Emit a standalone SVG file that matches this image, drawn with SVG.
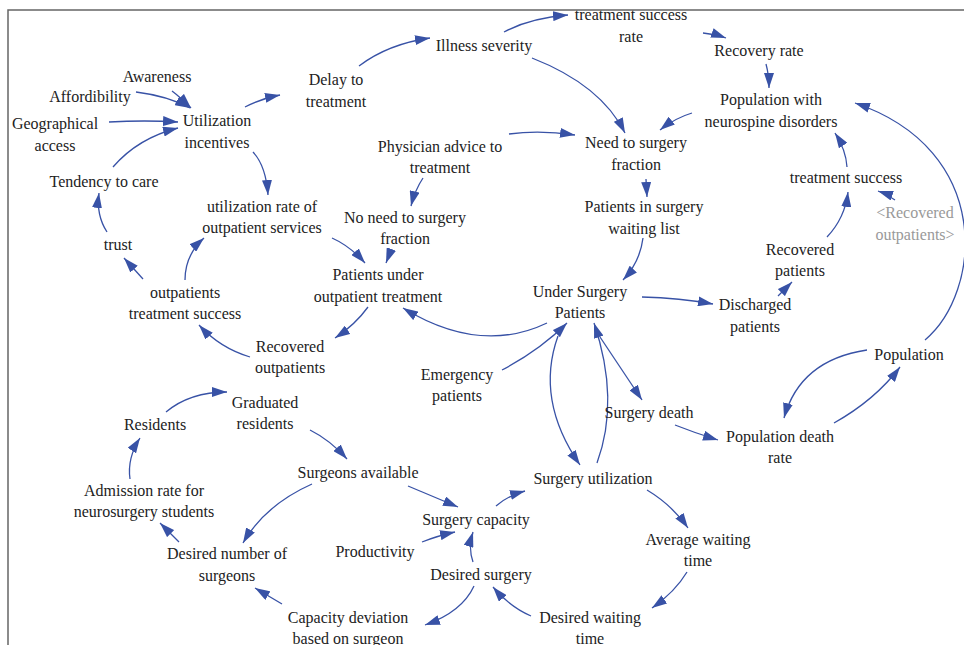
<svg xmlns="http://www.w3.org/2000/svg" width="964" height="645" viewBox="0 0 964 645">
<defs>
<marker id="ah" markerWidth="15" markerHeight="10" refX="15" refY="5" orient="auto" markerUnits="userSpaceOnUse"><path d="M0,0 L15,5 L0,10 z" fill="#3852a6"/></marker>
</defs>
<rect width="964" height="645" fill="#fff"/>
<path fill="none" stroke="#666" stroke-width="1.5" d="M8,645 L8,10 L964,10"/>
<g id="connectors" fill="none" stroke="#3852a6" stroke-width="1.3" marker-end="url(#ah)">
<path d="M172,91 Q180,97 191,108"/>
<path d="M136,92 Q168,96 190,108"/>
<path d="M109,122 Q145,120 178,122"/>
<path d="M113,167 Q138,138 178,128"/>
<path d="M245,107 Q260,99 280,95"/>
<path d="M253,152 Q266,166 268,195"/>
<path d="M359,66 Q388,44 430,38"/>
<path d="M504,32 Q530,18 568,15"/>
<path d="M532,58 Q601,85 625,133"/>
<path d="M509,134 Q540,130 575,135"/>
<path d="M423,178 Q415,190 411,206"/>
<path d="M703,33 Q715,34 726,38"/>
<path d="M766,64 Q769,75 769,88"/>
<path d="M692,113 Q675,118 660,130"/>
<path d="M925,340 C982,292 994,150 855,103"/>
<path d="M847,167 Q846,150 835,133"/>
<path d="M895,200 Q887,194 878,191"/>
<path d="M827,237 Q845,218 848,192"/>
<path d="M646,179 L647,197"/>
<path d="M643,238 Q640,262 623,280"/>
<path d="M642,297 Q680,298 713,304"/>
<path d="M778,296 L792,282"/>
<path d="M547,323 Q480,355 403,308"/>
<path d="M332,238 Q350,246 365,263"/>
<path d="M391,250 L386,263"/>
<path d="M368,307 Q355,325 335,338"/>
<path d="M250,357 Q220,348 199,325"/>
<path d="M143,279 L124,258"/>
<path d="M185,280 Q185,255 204,238"/>
<path d="M107,232 Q96,215 99,193"/>
<path d="M502,370 Q540,350 567,323"/>
<path d="M597,463 Q620,400 594,323"/>
<path d="M558,336 Q535,400 580,465"/>
<path d="M600,337 L642,400"/>
<path d="M675,425 Q695,433 718,440"/>
<path d="M867,350 Q800,360 784,418"/>
<path d="M834,423 Q875,400 900,367"/>
<path d="M647,490 Q672,505 688,528"/>
<path d="M687,572 Q675,592 652,608"/>
<path d="M531,616 Q510,607 493,587"/>
<path d="M473,562 Q468,548 473,532"/>
<path d="M474,586 Q462,612 425,625"/>
<path d="M282,604 L255,588"/>
<path d="M422,542 Q437,536 455,532"/>
<path d="M408,486 L458,507"/>
<path d="M496,506 Q507,496 525,491"/>
<path d="M312,484 Q265,505 243,543"/>
<path d="M310,430 Q330,440 347,459"/>
<path d="M166,412 Q190,392 227,392"/>
<path d="M130,479 Q127,458 140,438"/>
<path d="M179,542 L160,523"/>
</g>
<g id="awareness"><text font-family="Liberation Serif" font-size="16" fill="#222" text-anchor="middle" x="157" y="82">Awareness</text></g>
<g id="affordibility"><text font-family="Liberation Serif" font-size="16" fill="#222" text-anchor="middle" x="90" y="102">Affordibility</text></g>
<g id="geographical"><text font-family="Liberation Serif" font-size="16" fill="#222" text-anchor="middle" x="55" y="129">Geographical</text><text font-family="Liberation Serif" font-size="16" fill="#222" text-anchor="middle" x="55" y="151">access</text></g>
<g id="utilization-incentives"><text font-family="Liberation Serif" font-size="16" fill="#222" text-anchor="middle" x="217" y="126">Utilization</text><text font-family="Liberation Serif" font-size="16" fill="#222" text-anchor="middle" x="217" y="148">incentives</text></g>
<g id="delay"><text font-family="Liberation Serif" font-size="16" fill="#222" text-anchor="middle" x="336" y="85">Delay to</text><text font-family="Liberation Serif" font-size="16" fill="#222" text-anchor="middle" x="336" y="107">treatment</text></g>
<g id="illness"><text font-family="Liberation Serif" font-size="16" fill="#222" text-anchor="middle" x="484" y="51">Illness severity</text></g>
<g id="ts-rate"><text font-family="Liberation Serif" font-size="16" fill="#222" text-anchor="middle" x="631" y="20">treatment success</text><text font-family="Liberation Serif" font-size="16" fill="#222" text-anchor="middle" x="631" y="42">rate</text></g>
<g id="recovery-rate"><text font-family="Liberation Serif" font-size="16" fill="#222" text-anchor="middle" x="759" y="56">Recovery rate</text></g>
<g id="pop-neuro"><text font-family="Liberation Serif" font-size="16" fill="#222" text-anchor="middle" x="771" y="105">Population with</text><text font-family="Liberation Serif" font-size="16" fill="#222" text-anchor="middle" x="771" y="127">neurospine disorders</text></g>
<g id="need-surgery"><text font-family="Liberation Serif" font-size="16" fill="#222" text-anchor="middle" x="636" y="148">Need to surgery</text><text font-family="Liberation Serif" font-size="16" fill="#222" text-anchor="middle" x="636" y="170">fraction</text></g>
<g id="physician"><text font-family="Liberation Serif" font-size="16" fill="#222" text-anchor="middle" x="440" y="152">Physician advice to</text><text font-family="Liberation Serif" font-size="16" fill="#222" text-anchor="middle" x="440" y="173">treatment</text></g>
<g id="tendency"><text font-family="Liberation Serif" font-size="16" fill="#222" text-anchor="middle" x="104" y="187">Tendency to care</text></g>
<g id="util-rate"><text font-family="Liberation Serif" font-size="16" fill="#222" text-anchor="middle" x="262" y="212">utilization rate of</text><text font-family="Liberation Serif" font-size="16" fill="#222" text-anchor="middle" x="262" y="233">outpatient services</text></g>
<g id="no-need"><text font-family="Liberation Serif" font-size="16" fill="#222" text-anchor="middle" x="405" y="223">No need to surgery</text><text font-family="Liberation Serif" font-size="16" fill="#222" text-anchor="middle" x="405" y="244">fraction</text></g>
<g id="waiting-list"><text font-family="Liberation Serif" font-size="16" fill="#222" text-anchor="middle" x="644" y="212">Patients in surgery</text><text font-family="Liberation Serif" font-size="16" fill="#222" text-anchor="middle" x="644" y="234">waiting list</text></g>
<g id="treatment-success"><text font-family="Liberation Serif" font-size="16" fill="#222" text-anchor="middle" x="846" y="183">treatment success</text></g>
<g id="recovered-ghost"><text font-family="Liberation Serif" font-size="16" fill="#999" text-anchor="middle" x="915" y="218">&lt;Recovered</text><text font-family="Liberation Serif" font-size="16" fill="#999" text-anchor="middle" x="915" y="240">outpatients&gt;</text></g>
<g id="trust"><text font-family="Liberation Serif" font-size="16" fill="#222" text-anchor="middle" x="118" y="250">trust</text></g>
<g id="recovered-patients"><text font-family="Liberation Serif" font-size="16" fill="#222" text-anchor="middle" x="800" y="255">Recovered</text><text font-family="Liberation Serif" font-size="16" fill="#222" text-anchor="middle" x="800" y="276">patients</text></g>
<g id="outpatient-treatment"><text font-family="Liberation Serif" font-size="16" fill="#222" text-anchor="middle" x="378" y="280">Patients under</text><text font-family="Liberation Serif" font-size="16" fill="#222" text-anchor="middle" x="378" y="302">outpatient treatment</text></g>
<g id="under-surgery"><text font-family="Liberation Serif" font-size="16" fill="#222" text-anchor="middle" x="580" y="297">Under Surgery</text><text font-family="Liberation Serif" font-size="16" fill="#222" text-anchor="middle" x="580" y="318">Patients</text></g>
<g id="discharged"><text font-family="Liberation Serif" font-size="16" fill="#222" text-anchor="middle" x="755" y="310">Discharged</text><text font-family="Liberation Serif" font-size="16" fill="#222" text-anchor="middle" x="755" y="332">patients</text></g>
<g id="out-success"><text font-family="Liberation Serif" font-size="16" fill="#222" text-anchor="middle" x="185" y="298">outpatients</text><text font-family="Liberation Serif" font-size="16" fill="#222" text-anchor="middle" x="185" y="319">treatment success</text></g>
<g id="recovered-out"><text font-family="Liberation Serif" font-size="16" fill="#222" text-anchor="middle" x="290" y="352">Recovered</text><text font-family="Liberation Serif" font-size="16" fill="#222" text-anchor="middle" x="290" y="373">outpatients</text></g>
<g id="emergency"><text font-family="Liberation Serif" font-size="16" fill="#222" text-anchor="middle" x="457" y="380">Emergency</text><text font-family="Liberation Serif" font-size="16" fill="#222" text-anchor="middle" x="457" y="401">patients</text></g>
<g id="population"><text font-family="Liberation Serif" font-size="16" fill="#222" text-anchor="middle" x="909" y="360">Population</text></g>
<g id="graduated"><text font-family="Liberation Serif" font-size="16" fill="#222" text-anchor="middle" x="265" y="408">Graduated</text><text font-family="Liberation Serif" font-size="16" fill="#222" text-anchor="middle" x="265" y="429">residents</text></g>
<g id="residents"><text font-family="Liberation Serif" font-size="16" fill="#222" text-anchor="middle" x="155" y="430">Residents</text></g>
<g id="surgery-death"><text font-family="Liberation Serif" font-size="16" fill="#222" text-anchor="middle" x="649" y="418">Surgery death</text></g>
<g id="pop-death"><text font-family="Liberation Serif" font-size="16" fill="#222" text-anchor="middle" x="780" y="442">Population death</text><text font-family="Liberation Serif" font-size="16" fill="#222" text-anchor="middle" x="780" y="463">rate</text></g>
<g id="surgeons-available"><text font-family="Liberation Serif" font-size="16" fill="#222" text-anchor="middle" x="358" y="478">Surgeons available</text></g>
<g id="surgery-util"><text font-family="Liberation Serif" font-size="16" fill="#222" text-anchor="middle" x="593" y="484">Surgery utilization</text></g>
<g id="admission"><text font-family="Liberation Serif" font-size="16" fill="#222" text-anchor="middle" x="144" y="496">Admission rate for</text><text font-family="Liberation Serif" font-size="16" fill="#222" text-anchor="middle" x="144" y="517">neurosurgery students</text></g>
<g id="surgery-capacity"><text font-family="Liberation Serif" font-size="16" fill="#222" text-anchor="middle" x="476" y="525">Surgery capacity</text></g>
<g id="avg-wait"><text font-family="Liberation Serif" font-size="16" fill="#222" text-anchor="middle" x="698" y="545">Average waiting</text><text font-family="Liberation Serif" font-size="16" fill="#222" text-anchor="middle" x="698" y="566">time</text></g>
<g id="desired-surgeons"><text font-family="Liberation Serif" font-size="16" fill="#222" text-anchor="middle" x="227" y="559">Desired number of</text><text font-family="Liberation Serif" font-size="16" fill="#222" text-anchor="middle" x="227" y="581">surgeons</text></g>
<g id="productivity"><text font-family="Liberation Serif" font-size="16" fill="#222" text-anchor="middle" x="375" y="557">Productivity</text></g>
<g id="desired-surgery"><text font-family="Liberation Serif" font-size="16" fill="#222" text-anchor="middle" x="481" y="580">Desired surgery</text></g>
<g id="capacity-dev"><text font-family="Liberation Serif" font-size="16" fill="#222" text-anchor="middle" x="348" y="623">Capacity deviation</text><text font-family="Liberation Serif" font-size="16" fill="#222" text-anchor="middle" x="348" y="644">based on surgeon</text></g>
<g id="desired-wait"><text font-family="Liberation Serif" font-size="16" fill="#222" text-anchor="middle" x="590" y="623">Desired waiting</text><text font-family="Liberation Serif" font-size="16" fill="#222" text-anchor="middle" x="590" y="644">time</text></g>
</svg>
